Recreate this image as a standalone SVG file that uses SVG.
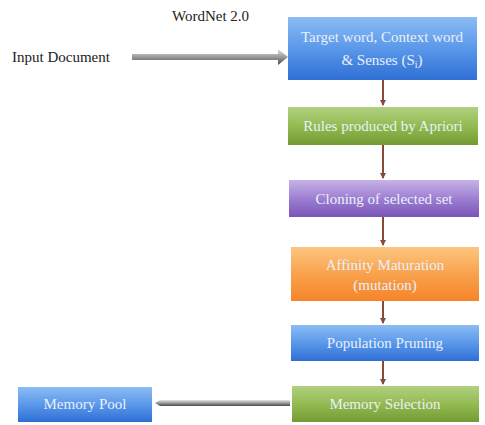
<svg xmlns="http://www.w3.org/2000/svg" width="485" height="425" viewBox="0 0 485 425">
<defs>
<linearGradient id="gBlue" x1="0" y1="0" x2="0" y2="1"><stop offset="0" stop-color="#8cbcf4"/><stop offset="0.5" stop-color="#5a98ea"/><stop offset="1" stop-color="#2f6fd4"/></linearGradient>
<linearGradient id="gGreen" x1="0" y1="0" x2="0" y2="1"><stop offset="0" stop-color="#b2d080"/><stop offset="0.5" stop-color="#93bb52"/><stop offset="1" stop-color="#739a34"/></linearGradient>
<linearGradient id="gPurple" x1="0" y1="0" x2="0" y2="1"><stop offset="0" stop-color="#c7b3e6"/><stop offset="0.5" stop-color="#9d7fd2"/><stop offset="1" stop-color="#7a55b8"/></linearGradient>
<linearGradient id="gOrange" x1="0" y1="0" x2="0" y2="1"><stop offset="0" stop-color="#fcc680"/><stop offset="0.5" stop-color="#f9a24c"/><stop offset="1" stop-color="#f5842a"/></linearGradient>
<linearGradient id="gArrow" x1="0" y1="0" x2="0" y2="1"><stop offset="0" stop-color="#e6e6e6"/><stop offset="0.5" stop-color="#9a9a9a"/><stop offset="1" stop-color="#4a4a4a"/></linearGradient>
<marker id="ah" markerWidth="6" markerHeight="6" refX="5" refY="3" orient="auto" markerUnits="userSpaceOnUse"><path d="M0,0 L6,3 L0,6 z" fill="#8a4a3a"/></marker>
<style>
.box{stroke:none}
.bt{font-family:"Liberation Serif",serif;font-size:15px;fill:#eaf0fa;text-anchor:middle}
.lt{font-family:"Liberation Serif",serif;font-size:15px;fill:#222}
.conn{stroke:#8a4a3a;stroke-width:2;fill:none}
</style>
</defs>
<g id="labels">
<text class="lt" x="12" y="62">Input Document</text>
<text class="lt" x="172" y="21">WordNet 2.0</text>
</g>
<g id="connectors">
<path d="M132,54 H278 V49 L288,57 L278,65 V60 H132 z" fill="url(#gArrow)"/>
<path d="M160,400 H290 V406 H160 L155,403 z" fill="url(#gArrow)"/>
<line class="conn" x1="383" y1="80" x2="383" y2="105" marker-end="url(#ah)"/>
<line class="conn" x1="383" y1="145" x2="383" y2="178" marker-end="url(#ah)"/>
<line class="conn" x1="383" y1="217" x2="383" y2="245" marker-end="url(#ah)"/>
<line class="conn" x1="383" y1="301" x2="383" y2="323" marker-end="url(#ah)"/>
<line class="conn" x1="383" y1="361" x2="383" y2="384" marker-end="url(#ah)"/>
</g>
<g id="node-target">
<rect class="box" x="288" y="17" width="189" height="63" fill="url(#gBlue)"/>
<text class="bt" x="382" y="42">Target word, Context word</text>
<text class="bt" x="382" y="65">&amp; Senses (S<tspan font-size="10" dy="3">i</tspan><tspan dy="-3">)</tspan></text>
</g>
<g id="node-rules">
<rect class="box" x="288" y="107" width="190" height="38" fill="url(#gGreen)"/>
<text class="bt" x="383" y="131">Rules produced by Apriori</text>
</g>
<g id="node-cloning">
<rect class="box" x="289" y="180" width="190" height="37" fill="url(#gPurple)"/>
<text class="bt" x="384" y="204">Cloning of selected set</text>
</g>
<g id="node-affinity">
<rect class="box" x="291" y="247" width="188" height="54" fill="url(#gOrange)"/>
<text class="bt" x="385" y="270">Affinity Maturation</text>
<text class="bt" x="385" y="290">(mutation)</text>
</g>
<g id="node-pruning">
<rect class="box" x="291" y="325" width="188" height="36" fill="url(#gBlue)"/>
<text class="bt" x="385" y="348">Population Pruning</text>
</g>
<g id="node-selection">
<rect class="box" x="292" y="386" width="187" height="36" fill="url(#gGreen)"/>
<text class="bt" x="385" y="409">Memory Selection</text>
</g>
<g id="node-pool">
<rect class="box" x="18" y="387" width="134" height="35" fill="url(#gBlue)"/>
<text class="bt" x="85" y="409">Memory Pool</text>
</g>
</svg>
